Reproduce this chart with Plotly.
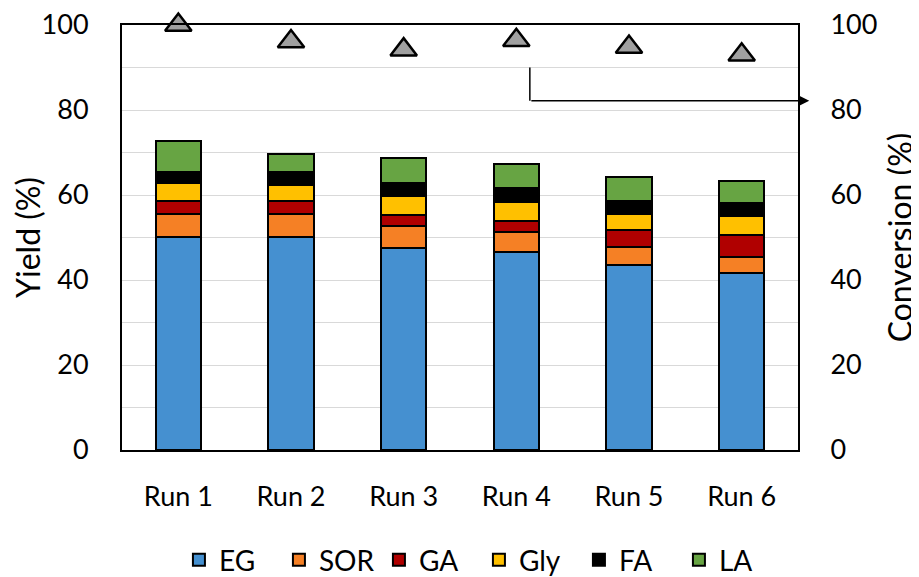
import plotly.graph_objects as go

runs = ["Run 1", "Run 2", "Run 3", "Run 4", "Run 5", "Run 6"]
EG = [50.1, 50.1, 47.5, 46.5, 43.6, 41.7]
SOR = [5.5, 5.5, 5.1, 4.9, 4.1, 3.8]
GA = [3.0, 3.0, 2.6, 2.4, 4.0, 5.1]
Gly = [4.2, 3.8, 4.5, 4.5, 3.9, 4.4]
FA = [2.6, 3.0, 3.2, 3.3, 3.1, 3.1]
LA = [7.3, 4.2, 5.7, 5.8, 5.5, 5.2]
conversion = [100.0, 96.1, 94.2, 96.4, 94.8, 93.0]

series = [
    ("EG", EG, "#4590D0"),
    ("SOR", SOR, "#F58025"),
    ("GA", GA, "#B00000"),
    ("Gly", Gly, "#FFC000"),
    ("FA", FA, "#000000"),
    ("LA", LA, "#67A443"),
]

FONT = "Lato, 'Open Sans', sans-serif"

fig = go.Figure()
for name, vals, col in series:
    fig.add_trace(go.Bar(
        x=runs, y=vals, name=name,
        marker=dict(color=col, line=dict(color="#000000", width=2)),
        width=0.4,
    ))

fig.add_trace(go.Scatter(
    x=runs, y=conversion, yaxis="y2", mode="markers", showlegend=False,
    marker=dict(symbol="triangle-up", size=23, color="#A0A0A0",
                line=dict(color="#000000", width=2.5)),
    cliponaxis=False,
))

# arrow pointing to conversion axis
fig.add_shape(type="line", xref="x", yref="y", x0=3.12, x1=3.12, y0=90, y1=82.2,
              line=dict(color="#000000", width=1.5))
fig.add_annotation(x=5.6, y=82.2, xref="x", yref="y", ax=3.12, ay=82.2,
                   axref="x", ayref="y", showarrow=True, arrowhead=2,
                   arrowsize=1.4, arrowwidth=1.5, arrowcolor="#000000", text="")

fig.update_layout(
    barmode="stack",
    width=911, height=569,
    margin=dict(l=114, r=121, t=17, b=127, autoexpand=False),
    plot_bgcolor="white", paper_bgcolor="white",
    font=dict(family=FONT, size=27, color="#000000"),
    showlegend=True,
    legend=dict(orientation="h", x=0.528, xanchor="center", yref="container",
                y=0.03, yanchor="middle", entrywidth=55, entrywidthmode="pixels",
                font=dict(size=28), traceorder="normal", itemwidth=30),
    xaxis=dict(range=[-0.5, 5.5], showline=True, linecolor="#000000", linewidth=2,
               mirror=True, ticks="", showgrid=False, tickfont=dict(size=27),
               automargin=False, ticklabelstandoff=22),
    yaxis=dict(range=[0, 100], dtick=20, showline=True, linecolor="#000000", linewidth=2,
               mirror=True, ticks="", showgrid=True, gridcolor="#D9D9D9", gridwidth=1,
               minor=dict(dtick=10, showgrid=True, gridcolor="#D9D9D9", gridwidth=1),
               zeroline=False, automargin=False, ticklabelstandoff=26,
               ticklabeloverflow="allow",
               title=dict(text="Yield (%)", font=dict(size=32), standoff=8)),
    yaxis2=dict(range=[0, 100], dtick=20, overlaying="y", side="right", showgrid=False,
                showline=True, linecolor="#000000", linewidth=2, ticks="",
                zeroline=False, automargin=False, ticklabelstandoff=25,
                ticklabeloverflow="allow",
                title=dict(text="Conversion (%)", font=dict(size=32), standoff=20)),
)

fig.write_html("out.html")
